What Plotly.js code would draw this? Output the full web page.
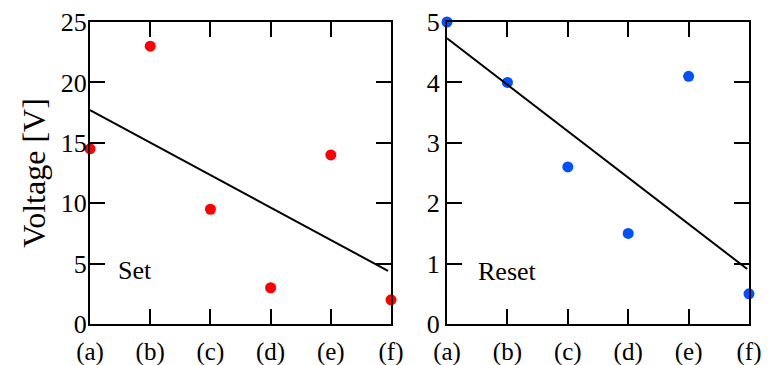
<!DOCTYPE html>
<html>
<head>
<meta charset="utf-8">
<script src="https://cdn.plot.ly/plotly-3.0.1.min.js"></script>
<style>html,body{margin:0;padding:0;background:#fff;}#chart{width:779px;height:365px;}</style>
</head>
<body>
<div id="chart"></div>
<script>
// Data
const categories = ['(a)', '(b)', '(c)', '(d)', '(e)', '(f)'];
const catPos = [0, 1, 2, 3, 4, 5];
const setValues = [14.5, 23, 9.5, 3, 14, 2];
const resetValues = [5.0, 4.0, 2.6, 1.5, 4.1, 0.5];
const setFitX = [0, 4.95];
const setFitY = [17.7, 4.4];
const resetFitX = [0, 4.97];
const resetFitY = [4.73, 0.91];
const yTicksSet = [0, 5, 10, 15, 20, 25];
const yTicksReset = [0, 1, 2, 3, 4, 5];

const FONT = 'Liberation Serif, Times New Roman, serif';

const traces = [
  {x: catPos, y: setValues, type: 'scatter', mode: 'markers', xaxis: 'x', yaxis: 'y',
   marker: {color: '#ff0000', size: 11}, cliponaxis: false, showlegend: false},
  {x: setFitX, y: setFitY, type: 'scatter', mode: 'lines', xaxis: 'x', yaxis: 'y',
   line: {color: '#000', width: 2}, showlegend: false},
  {x: catPos, y: resetValues, type: 'scatter', mode: 'markers', xaxis: 'x2', yaxis: 'y2',
   marker: {color: '#0050ff', size: 11}, cliponaxis: false, showlegend: false},
  {x: resetFitX, y: resetFitY, type: 'scatter', mode: 'lines', xaxis: 'x2', yaxis: 'y2',
   line: {color: '#000', width: 2}, showlegend: false}
];

function xax(domain, anchor) {
  return {
    domain: domain, anchor: anchor, range: [0, 5],
    tickmode: 'array', tickvals: catPos, ticktext: categories,
    ticks: 'inside', ticklen: 15, tickwidth: 2, tickcolor: '#000',
    showline: true, linecolor: '#000', linewidth: 2, mirror: 'ticks',
    showgrid: false, zeroline: false, ticklabelstandoff: 4,
    tickfont: {family: FONT, size: 25, color: '#000'}
  };
}
function yax(domain, anchor, rng, ticks) {
  return {
    domain: domain, anchor: anchor, range: rng,
    tickmode: 'array', tickvals: ticks,
    ticks: 'inside', ticklen: 15, tickwidth: 2, tickcolor: '#000',
    showline: true, linecolor: '#000', linewidth: 2, mirror: 'ticks',
    showgrid: false, zeroline: false,
    tickfont: {family: FONT, size: 26, color: '#000'}
  };
}

const yDom = [1 - 324/365, 1 - 22/365];
const layout = {
  width: 779, height: 365,
  margin: {l: 0, r: 0, t: 0, b: 0},
  paper_bgcolor: '#fff', plot_bgcolor: '#fff',
  font: {family: FONT, color: '#000'},
  xaxis: xax([90/779, 391/779], 'y'),
  yaxis: Object.assign(yax(yDom, 'x', [0, 25], yTicksSet), {
    ticklabelstandoff: -4,
    title: {text: 'Voltage [V]', font: {family: FONT, size: 32, color: '#000'}, standoff: 6}
  }),
  xaxis2: xax([447/779, 749/779], 'y2'),
  yaxis2: yax(yDom, 'x2', [0, 5], yTicksReset),
  annotations: [
    {text: 'Set', x: 0.75, y: 4.4, xref: 'x', yref: 'y', showarrow: false,
     font: {family: FONT, size: 26, color: '#000'}},
    {text: 'Reset', x: 1.0, y: 0.87, xref: 'x2', yref: 'y2', showarrow: false,
     font: {family: FONT, size: 26, color: '#000'}}
  ]
};

Plotly.newPlot('chart', traces, layout, {displayModeBar: false, staticPlot: true});
</script>
</body>
</html>
